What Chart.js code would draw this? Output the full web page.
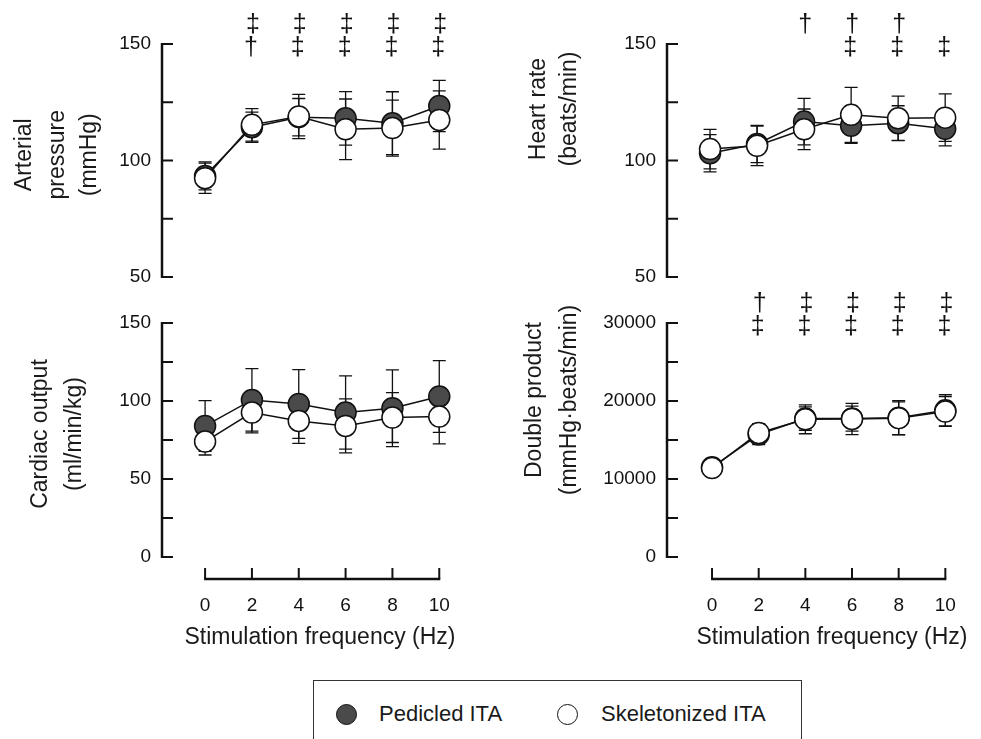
<!DOCTYPE html>
<html><head><meta charset="utf-8">
<script src="https://cdn.jsdelivr.net/npm/chart.js@4.4.0/dist/chart.umd.min.js"></script>
<style>
html,body{margin:0;padding:0;background:#fff;}
#wrap{position:relative;width:981px;height:739px;overflow:hidden;font-family:"Liberation Sans",Arial,Helvetica,sans-serif;color:#1a1a1a;}
canvas{position:absolute;}
.vt{position:absolute;transform:rotate(-90deg);text-align:center;white-space:nowrap;font-size:23px;}
.xt{position:absolute;font-size:23px;white-space:nowrap;transform:translate(-50%,-50%);}
#legend{position:absolute;left:313px;top:680px;width:489px;height:90px;border:1.5px solid #333;box-sizing:border-box;}
.lm{position:absolute;width:21px;height:21px;border-radius:50%;border:1.5px solid #111;box-sizing:border-box;}
.lt{position:absolute;font-size:22px;white-space:nowrap;transform:translateY(-50%);}
</style>
</head><body>
<div id="wrap">
  <canvas id="tl" width="480" height="290" style="left:0px;top:0px"></canvas>
  <canvas id="tr" width="491" height="290" style="left:490px;top:0px"></canvas>
  <canvas id="bl" width="480" height="360" style="left:0px;top:290px"></canvas>
  <canvas id="br" width="491" height="360" style="left:490px;top:290px"></canvas>
  <div id="legend"></div>
</div>
<script>
// ---- data ----
const freq = [0, 2, 4, 6, 8, 10];
const xTickValues = [0, 2, 4, 6, 8, 10];
const legendLabels = ['Pedicled ITA', 'Skeletonized ITA'];
const xTitle = 'Stimulation frequency (Hz)';

const apPed = [93.4, 114.3, 118.6, 118.1, 116.0, 123.4];
const apPedSD = [6, 6.5, 8, 11.5, 13.5, 11];
const apSkel = [92.4, 115.3, 118.9, 113.4, 113.9, 117.4];
const apSkelSD = [6.5, 7, 9.5, 13, 12, 12.5];
const apTicks = [50, 75, 100, 125, 150];
const apLabels = [50, 100, 150];
const apSigTop = ['', '‡', '‡', '‡', '‡', '‡'];
const apSigBot = ['', '†', '‡', '‡', '‡', '‡'];

const hrPed = [103.1, 107.1, 116.7, 114.9, 116.0, 113.6];
const hrPedSD = [8, 8, 10, 7.5, 7.5, 7.3];
const hrSkel = [104.9, 106.3, 113.4, 119.6, 118.1, 118.4];
const hrSkelSD = [8.5, 8.5, 8.7, 11.8, 9.5, 10.2];
const hrTicks = [50, 75, 100, 125, 150];
const hrLabels = [50, 100, 150];
const hrSigTop = ['', '', '†', '†', '†', ''];
const hrSigBot = ['', '', '', '‡', '‡', '‡'];

const coPed = [84, 100.7, 98.1, 92.6, 95.4, 102.9];
const coPedSD = [16.3, 20, 22, 23.5, 24.6, 23];
const coSkel = [74, 92.6, 87.2, 84, 89.4, 90];
const coSkelSD = [8.6, 13, 14.3, 17.3, 16, 17.5];
const coTicks = [0, 25, 50, 75, 100, 125, 150];
const coLabels = [0, 50, 100, 150];

const dpPed = [11500, 15700, 17750, 17750, 17850, 18800];
const dpPedSD = [500, 1300, 1500, 1600, 2200, 2000];
const dpSkel = [11400, 15900, 17650, 17700, 17800, 18650];
const dpSkelSD = [500, 1200, 1850, 2000, 2100, 1900];
const dpTicks = [0, 5000, 10000, 15000, 20000, 25000, 30000];
const dpLabels = [0, 10000, 20000, 30000];
const dpSigTop = ['', '†', '‡', '‡', '‡', '‡'];
const dpSigBot = ['', '‡', '‡', '‡', '‡', '‡'];

const FONT = '"Liberation Sans", Arial, Helvetica, sans-serif';
const INK = '#111';
const PED_FILL = '#4a4a4a';

const decor = {
  id: 'decor',
  beforeDatasetsDraw(chart, args, opts) {
    const ctx = chart.ctx, xs = chart.scales.x, ys = chart.scales.y;
    ctx.save();
    ctx.strokeStyle = INK; ctx.lineWidth = 1.3;
    chart.data.datasets.forEach(ds => {
      ds.data.forEach((p, i) => {
        const e = ds.errors[i];
        const x = xs.getPixelForValue(p.x);
        const y1 = ys.getPixelForValue(p.y + e), y2 = ys.getPixelForValue(p.y - e);
        ctx.beginPath();
        ctx.moveTo(x, y1); ctx.lineTo(x, y2);
        ctx.moveTo(x - 6.5, y1); ctx.lineTo(x + 6.5, y1);
        ctx.moveTo(x - 6.5, y2); ctx.lineTo(x + 6.5, y2);
        ctx.stroke();
      });
    });
    ctx.restore();
  },
  afterDraw(chart, args, opts) {
    const ctx = chart.ctx, xs = chart.scales.x, ys = chart.scales.y, ca = chart.chartArea;
    ctx.save();
    ctx.strokeStyle = INK;
    const ax = ca.left;
    const t = opts.yTicks;
    ctx.lineWidth = 2.5;
    ctx.beginPath();
    ctx.moveTo(ax, ys.getPixelForValue(t[0]) + 1);
    ctx.lineTo(ax, ys.getPixelForValue(t[t.length - 1]) - 1);
    ctx.stroke();
    ctx.lineWidth = 2;
    t.forEach(v => {
      const y = ys.getPixelForValue(v);
      ctx.beginPath(); ctx.moveTo(ax, y); ctx.lineTo(ax + 11, y); ctx.stroke();
    });
    if (opts.xAxis) {
      const y0 = ca.bottom + 22;
      ctx.lineWidth = 2.5;
      ctx.beginPath();
      ctx.moveTo(xs.getPixelForValue(xTickValues[0]) - 1, y0);
      ctx.lineTo(xs.getPixelForValue(xTickValues[xTickValues.length - 1]) + 1, y0);
      ctx.stroke();
      ctx.lineWidth = 2;
      xTickValues.forEach(v => {
        const x = xs.getPixelForValue(v);
        ctx.beginPath(); ctx.moveTo(x, y0); ctx.lineTo(x, y0 - 11); ctx.stroke();
      });
    }
    if (opts.sigTop) {
      ctx.fillStyle = INK;
      ctx.font = '25px ' + FONT;
      ctx.textAlign = 'center'; ctx.textBaseline = 'middle';
      freq.forEach((f, i) => {
        const x = xs.getPixelForValue(f);
        if (opts.sigTop[i]) ctx.fillText(opts.sigTop[i], x + 1, ca.top - 19);
        if (opts.sigBot[i]) ctx.fillText(opts.sigBot[i], x - 1, ca.top + 4);
      });
    }
    ctx.restore();
  }
};

function makeChart(id, o) {
  const mk = (vals) => freq.map((f, i) => ({ x: f, y: vals[i] }));
  return new Chart(document.getElementById(id), {
    type: 'line',
    data: {
      datasets: [
        { label: legendLabels[1], data: mk(o.skel), errors: o.skelSD, borderColor: INK, borderWidth: 1.5,
          pointRadius: 10.5, pointBorderWidth: 1.5, pointBackgroundColor: '#fff', pointBorderColor: INK,
          order: 0, clip: false, tension: 0, fill: false },
        { label: legendLabels[0], data: mk(o.ped), errors: o.pedSD, borderColor: INK, borderWidth: 1.5,
          pointRadius: 10.5, pointBorderWidth: 1.5, pointBackgroundColor: PED_FILL, pointBorderColor: INK,
          order: 1, clip: false, tension: 0, fill: false }
      ]
    },
    options: {
      responsive: false, animation: false, devicePixelRatio: 1, events: [],
      layout: { padding: { top: o.padTop, bottom: o.padBottom, right: o.padRight, left: 0 } },
      plugins: {
        legend: { display: false }, tooltip: { enabled: false },
        decor: { yTicks: o.yTicks, xAxis: o.xAxis, sigTop: o.sigTop, sigBot: o.sigBot }
      },
      scales: {
        x: {
          type: 'linear', min: o.xMin, max: o.xMax, display: o.xAxis,
          grid: { display: false, drawTicks: false }, border: { display: false },
          ticks: { font: { size: 19, family: FONT }, color: INK, padding: 37, autoSkip: false, maxRotation: 0,
                   callback: v => String(v) },
          afterBuildTicks: s => { s.ticks = xTickValues.map(v => ({ value: v })); },
          afterFit: s => { s.height = o.xHeight || 0; s.paddingLeft = 0; s.paddingRight = 0; }
        },
        y: {
          type: 'linear', min: o.yTicks[0], max: o.yTicks[o.yTicks.length - 1],
          grid: { display: false, drawTicks: false }, border: { display: false },
          ticks: { font: { size: 19, family: FONT }, color: INK, padding: 11, autoSkip: false,
                   callback: v => (o.yLabels.includes(v) ? String(v) : '') },
          afterBuildTicks: s => { s.ticks = o.yTicks.map(v => ({ value: v })); },
          afterFit: s => { s.width = o.yWidth; s.paddingTop = 0; s.paddingBottom = 0; }
        }
      }
    },
    plugins: [decor]
  });
}

makeChart('tl', { ped: apPed, pedSD: apPedSD, skel: apSkel, skelSD: apSkelSD, yTicks: apTicks, yLabels: apLabels,
  sigTop: apSigTop, sigBot: apSigBot, xAxis: false, xMin: -1.84, xMax: 10.8, yWidth: 162, padTop: 44, padBottom: 13, padRight: 22 });
makeChart('tr', { ped: hrPed, pedSD: hrPedSD, skel: hrSkel, skelSD: hrSkelSD, yTicks: hrTicks, yLabels: hrLabels,
  sigTop: hrSigTop, sigBot: hrSigBot, xAxis: false, xMin: -1.83, xMax: 10.8, yWidth: 177, padTop: 44, padBottom: 13, padRight: 17 });
makeChart('bl', { ped: coPed, pedSD: coPedSD, skel: coSkel, skelSD: coSkelSD, yTicks: coTicks, yLabels: coLabels,
  sigTop: null, sigBot: null, xAxis: true, xHeight: 93, xMin: -1.84, xMax: 10.8, yWidth: 162, padTop: 33, padBottom: 0, padRight: 22 });
makeChart('br', { ped: dpPed, pedSD: dpPedSD, skel: dpSkel, skelSD: dpSkelSD, yTicks: dpTicks, yLabels: dpLabels,
  sigTop: dpSigTop, sigBot: dpSigBot, xAxis: true, xHeight: 93, xMin: -1.93, xMax: 10.8, yWidth: 177, padTop: 33, padBottom: 0, padRight: 17 });

// ---- axis titles (HTML text) ----
const wrap = document.getElementById('wrap');
function vTitle(lines, cx, cy, lh) {
  const d = document.createElement('div');
  d.className = 'vt';
  const W = 300, H = lines.length * lh;
  d.style.width = W + 'px'; d.style.height = H + 'px'; d.style.lineHeight = lh + 'px';
  d.style.left = (cx - W / 2) + 'px'; d.style.top = (cy - H / 2) + 'px';
  d.innerHTML = lines.map(s => '<div>' + s + '</div>').join('');
  wrap.appendChild(d);
}
function xTitleAt(cx, cy) {
  const d = document.createElement('div');
  d.className = 'xt'; d.textContent = xTitle;
  d.style.left = cx + 'px'; d.style.top = cy + 'px';
  wrap.appendChild(d);
}
vTitle(['Arterial', 'pressure', '(mmHg)'], 55.5, 155, 32.5);
vTitle(['Heart rate', '(beats/min)'], 552.5, 109, 31);
vTitle(['Cardiac output', '(ml/min/kg)'], 55.5, 434, 34);
vTitle(['Double product', '(mmHg·beats/min)'], 550.5, 400, 35);
xTitleAt(320, 636);
xTitleAt(832, 636);

// ---- legend ----
const lg = document.getElementById('legend');
function legendItem(fill, mx, tx, label) {
  const m = document.createElement('div');
  m.className = 'lm'; m.style.background = fill;
  m.style.left = (mx - 313 - 10.5) + 'px'; m.style.top = (713 - 680 - 10.5) + 'px';
  lg.appendChild(m);
  const t = document.createElement('div');
  t.className = 'lt'; t.textContent = label;
  t.style.left = (tx - 313) + 'px'; t.style.top = (713 - 680) + 'px';
  lg.appendChild(t);
}
legendItem(PED_FILL, 345, 378, legendLabels[0]);
legendItem('#fff', 566, 600, legendLabels[1]);
</script>
</body></html>
